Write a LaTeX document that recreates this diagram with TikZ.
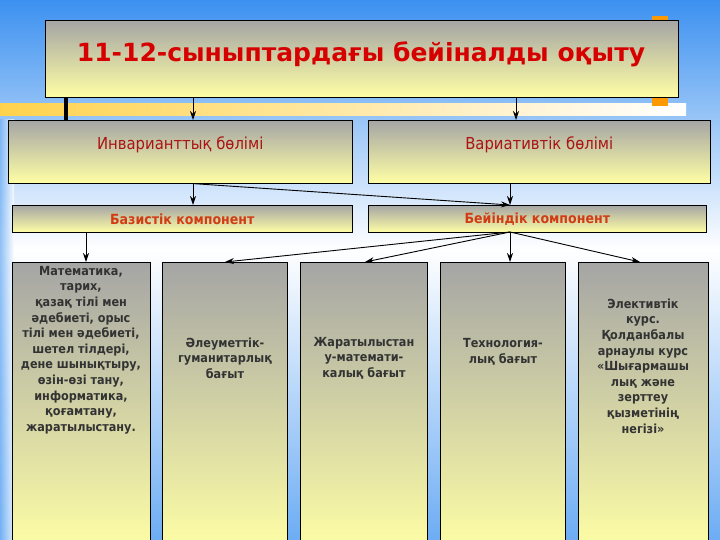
\documentclass[tikz,border=0pt]{standalone}
\usepackage{fontspec}
\setmainfont{DejaVu Sans}
\newfontfamily\cond{DejaVu Sans Condensed}
\usetikzlibrary{arrows.meta}
\definecolor{bgblue}{RGB}{60,145,240}
\definecolor{boxgray}{RGB}{165,165,165}
\definecolor{boxyel}{RGB}{255,255,165}
\definecolor{titlered}{RGB}{215,0,0}
\definecolor{labred}{RGB}{170,20,20}
\definecolor{laborange}{RGB}{210,60,20}
\tikzset{
  px/.style={x=1pt,y=-1pt},
  gbox/.style={draw=black,line width=0.6pt,top color=boxgray,bottom color=boxyel,inner sep=0pt,anchor=north west},
  tbox/.style={gbox,top color=boxgray,middle color=boxyel!85!boxgray,bottom color=boxyel},
  arr/.style={-{Stealth[length=9pt,width=6pt]},line width=0.9pt},
  btxt/.style={font=\cond\bfseries\fontsize{12.5}{15.6}\selectfont,text=black!80,align=center}
}
\begin{document}
\begin{tikzpicture}[px]
\useasboundingbox (0,0) rectangle (720,540);
\shade[top color=bgblue,bottom color=white] (0,0) rectangle (720,250);
\shade[top color=white,bottom color=bgblue!75] (0,250) rectangle (720,540);
\shade[left color=bgblue!70,right color=bgblue!0,opacity=0.8] (0,120) rectangle (14,540);
% yellow stripe
\shade[left color=yellow!50!orange!70,right color=white] (0,104) rectangle (686,116);
% decoration
\fill[orange!80!yellow] (652,16) rectangle (668,24);
\fill[orange!80!yellow] (652,98) rectangle (668,106);
% title
\node[gbox,minimum width=633pt,minimum height=77pt] (title) at (45,20) {};
\node[font=\bfseries\fontsize{25}{28}\selectfont,text=titlered] at (361,54) {11-12-сыныптардағы бейіналды оқыту};
\draw[line width=4pt] (66,97) -- (66,120);
% level 2
\node[gbox,minimum width=344pt,minimum height=63pt] (inv) at (8,120) {};
\node[gbox,minimum width=342pt,minimum height=63pt] (var) at (368,120) {};
\node[text=labred,font=\cond\fontsize{16.5}{18}\selectfont] at (inv.center) [yshift=7pt] {Инварианттық бөлімі};
\node[text=labred,font=\cond\fontsize{16.5}{18}\selectfont] at (var.center) [yshift=7pt] {Вариативтік бөлімі};
% level 3
\node[gbox,minimum width=340pt,minimum height=27pt] (baz) at (12,205) {};
\node[gbox,minimum width=338pt,minimum height=27pt] (bey) at (368,205) {};
\node[text=laborange,font=\cond\bfseries\fontsize{14}{16}\selectfont] at (baz.center) {Базистік компонент};
\node[text=laborange,font=\cond\bfseries\fontsize{14}{16}\selectfont] at (bey.center) {Бейіндік компонент};
% bottom boxes
\node[tbox,minimum width=138pt,minimum height=290pt] (b1) at (12,262) {};
\node[tbox,minimum width=125pt,minimum height=290pt] (b2) at (162,262) {};
\node[tbox,minimum width=127pt,minimum height=290pt] (b3) at (300,262) {};
\node[tbox,minimum width=125pt,minimum height=290pt] (b4) at (440,262) {};
\node[tbox,minimum width=130pt,minimum height=290pt] (b5) at (578,262) {};
\node[btxt] at (81,350) {Математика,\\тарих,\\қазақ тілі мен\\әдебиеті, орыс\\тілі мен әдебиеті,\\шетел тілдері,\\дене шынықтыру,\\өзін-өзі тану,\\информатика,\\қоғамтану,\\жаратылыстану.};
\node[btxt] at (225,358) {Әлеуметтік-\\гуманитарлық\\бағыт};
\node[btxt] at (364,358) {Жаратылыстан\\у-математи-\\калық бағыт};
\node[btxt] at (503,352) {Технология-\\лық бағыт};
\node[btxt] at (643,366) {Элективтік\\курс.\\Қолданбалы\\арнаулы курс\\«Шығармашы\\лық және\\зерттеу\\қызметінің\\негізі»};
% connectors
\draw[arr] (title.south west -| 193,0) -- (inv.north west -| 193,0);
\draw[arr] (title.south west -| 516,0) -- (var.north west -| 516,0);
\draw[arr] (inv.south west -| 193,0) -- (baz.north west -| 193,0);
\draw[arr] (inv.south west -| 193,0) -- (bey.north west -| 510,0);
\draw[arr] (var.south west -| 510,0) -- (bey.north west -| 510,0);
\draw[arr] (baz.south west -| 86,0) -- (b1.north west -| 86,0);
\coordinate (bs) at (510,232);
\draw[arr] (bs) -- (b2.north west -| 225,0);
\draw[arr] (bs) -- (b3.north west -| 365,0);
\draw[arr] (bs) -- (b4.north west -| 510,0);
\draw[arr] (bs) -- (b5.north west -| 640,0);
\end{tikzpicture}
\end{document}
